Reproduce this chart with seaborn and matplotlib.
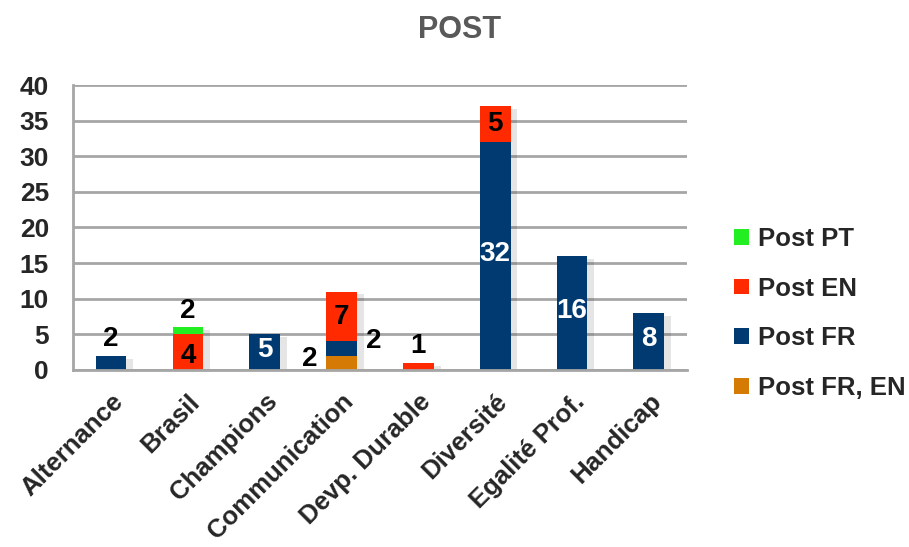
import matplotlib
matplotlib.use("Agg")
import matplotlib.pyplot as plt
from matplotlib.patches import Patch
import seaborn as sns
import numpy as np

categories = ["Alternance", "Brasil", "Champions", "Communication",
              "Devp. Durable", "Diversité", "Egalité Prof.", "Handicap"]
post_fr_en = [0, 0, 0, 2, 0, 0, 0, 0]
post_fr = [2, 0, 5, 2, 0, 32, 16, 8]
post_en = [0, 5, 0, 7, 1, 5, 0, 0]
post_pt = [0, 1, 0, 0, 0, 0, 0, 0]
# value labels as printed on the chart
label_fr_en = ["", "", "", "2", "", "", "", ""]
label_fr = ["2", "", "5", "2", "", "32", "16", "8"]
label_en = ["", "4", "", "7", "1", "5", "", ""]
label_pt = ["", "2", "", "", "", "", "", ""]

series_names = ["Post PT", "Post EN", "Post FR", "Post FR, EN"]
colors = {"Post PT": "#22EE22", "Post EN": "#FF2A00",
          "Post FR": "#003A70", "Post FR, EN": "#D67A06"}

sns.set_theme(style="white")
plt.rcParams["font.family"] = ["Liberation Sans", "DejaVu Sans"]

fig = plt.figure(figsize=(9.09, 5.47), dpi=100)
ax = fig.add_axes([0.080, 0.3236, 0.676, 0.521])

totals = (np.array(post_fr_en) + np.array(post_fr) + np.array(post_en)
          + np.array(post_pt))
# soft drop shadow behind each full stack
sns.barplot(x=categories, y=totals, color="#000000", alpha=0.10, width=0.46,
            ax=ax, saturation=1, zorder=2, linewidth=0)
for p in ax.patches:
    p.set_x(p.get_x() + 0.06)
    p.set_y(-0.4)

bottom = np.zeros(len(categories))
stack = [("Post FR, EN", post_fr_en), ("Post FR", post_fr),
         ("Post EN", post_en), ("Post PT", post_pt)]
bottoms = {}
for name, vals in stack:
    bottoms[name] = bottom.copy()
    sns.barplot(x=categories, y=vals, bottom=bottom.copy(), color=colors[name],
                width=0.4, ax=ax, saturation=1, zorder=3, linewidth=0)
    bottom = bottom + np.array(vals)

ax.set_ylim(0, 40)
ax.set_xlim(-0.5, 7.5)
ax.set_yticks(np.arange(0, 41, 5))
ax.yaxis.grid(True, color="#A6A6A6", linewidth=2, zorder=0)
ax.set_axisbelow(True)
for s in ["top", "right"]:
    ax.spines[s].set_visible(False)
for s in ["left", "bottom"]:
    ax.spines[s].set_color("#A6A6A6")
    ax.spines[s].set_linewidth(2)
    ax.spines[s].set_zorder(4)

ax.tick_params(axis="y", length=6, width=2, color="#A6A6A6", labelsize=19, pad=11)
for t in ax.get_yticklabels():
    t.set_fontweight("bold")

ax.set_xticks(range(len(categories)))
ax.set_xticklabels(categories, rotation=45, ha="right", rotation_mode="anchor",
                   fontsize=18.5, fontweight="bold")
ax.tick_params(axis="x", which="major", length=0, pad=14)
ax.set_xticks(np.arange(-0.5, 8, 1), minor=True)
ax.tick_params(axis="x", which="minor", length=7, width=2, color="#A6A6A6")

fs = 20
def txt(x, y, s, color="black", ha="center"):
    if s:
        ax.text(x, y, s, ha=ha, va="center", fontsize=fs, fontweight="bold",
                color=color, zorder=5)

for i in range(len(categories)):
    fr = post_fr[i]; en = post_en[i]; pt = post_pt[i]; fe = post_fr_en[i]
    if label_fr[i]:
        if i == 0:
            txt(i, fr + 2.3, label_fr[i])
        elif i == 3:
            txt(i + 0.42, bottoms["Post FR"][i] + fr / 2 + 1.0, label_fr[i])
        else:
            txt(i, bottoms["Post FR"][i] + fr / 2 + 0.3, label_fr[i], color="white")
    if label_en[i]:
        if en <= 1:
            txt(i, bottoms["Post EN"][i] + en + 2.3, label_en[i])
        elif i == 1:
            txt(i, 2.0, label_en[i])
        else:
            txt(i, bottoms["Post EN"][i] + en / 2, label_en[i])
    if label_pt[i]:
        txt(i, bottoms["Post PT"][i] + pt + 2.3, label_pt[i])
    if label_fr_en[i]:
        txt(i - 0.42, fe / 2 + 0.5, label_fr_en[i])

fig.text(0.506, 0.945, "POST", ha="center", va="center", fontsize=22,
         fontweight="bold", color="#595959")

handles = [Patch(facecolor=colors[n], edgecolor="none") for n in series_names]
fig.legend(handles, series_names, loc="center left", bbox_to_anchor=(0.808, 0.427),
           frameon=False, borderpad=0, borderaxespad=0, handlelength=0.55,
           handleheight=0.55, handletextpad=0.35, labelspacing=1.0,
           prop={"size": 18.5, "weight": "bold"})

fig.savefig("out.png", dpi=100)
